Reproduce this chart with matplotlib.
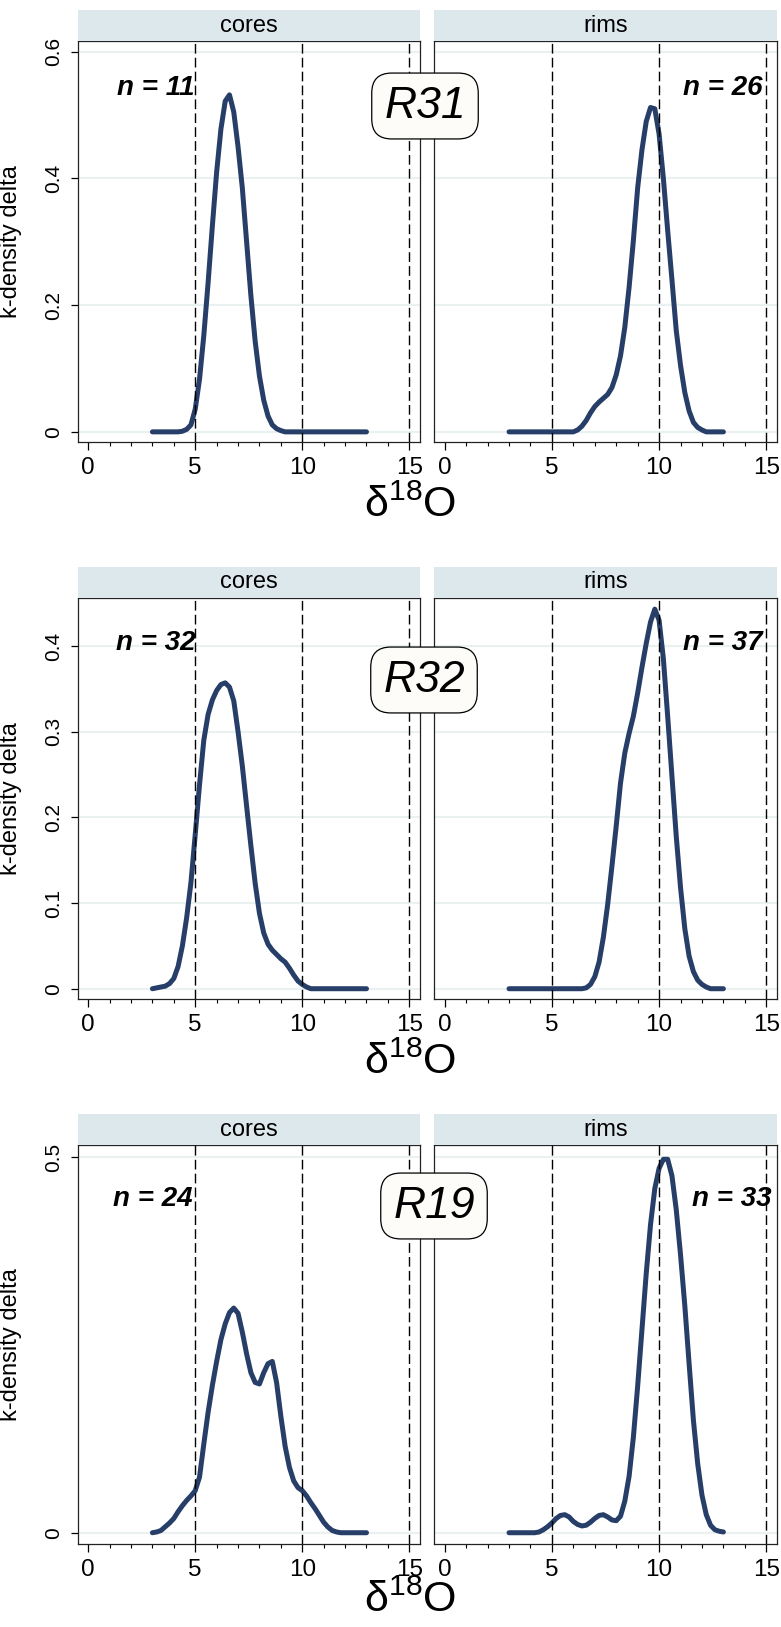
import matplotlib
matplotlib.use("Agg")
import matplotlib.pyplot as plt
from matplotlib.patches import Rectangle
from matplotlib.ticker import MultipleLocator

plt.rcParams['font.family'] = ['Liberation Sans', 'DejaVu Sans']
plt.rcParams['mathtext.fontset'] = 'custom'
plt.rcParams['mathtext.rm'] = 'Liberation Sans'
plt.rcParams['mathtext.it'] = 'Liberation Sans:italic'

# delta 18O grid on which the densities were read
delta = [3.0, 3.2, 3.4, 3.6, 3.8, 4.0, 4.2, 4.4, 4.6, 4.8,
         5.0, 5.2, 5.4, 5.6, 5.8, 6.0, 6.2, 6.4, 6.6, 6.8,
         7.0, 7.2, 7.4, 7.6, 7.8, 8.0, 8.2, 8.4, 8.6, 8.8,
         9.0, 9.2, 9.4, 9.6, 9.8, 10.0, 10.2, 10.4, 10.6, 10.8,
         11.0, 11.2, 11.4, 11.6, 11.8, 12.0, 12.2, 12.4, 12.6, 12.8, 13.0]

r31_cores = [0, 0, 0, 0, 0, 0, 0, 0.001, 0.004, 0.011,
             0.036, 0.083, 0.152, 0.235, 0.325, 0.41, 0.478, 0.522, 0.532, 0.505,
             0.45, 0.385, 0.30, 0.215, 0.143, 0.088, 0.05, 0.025, 0.011, 0.005,
             0.002, 0, 0, 0, 0, 0, 0, 0, 0, 0,
             0, 0, 0, 0, 0, 0, 0, 0, 0, 0, 0]
r31_rims = [0, 0, 0, 0, 0, 0, 0, 0, 0, 0,
            0, 0, 0, 0, 0, 0, 0.003, 0.009, 0.018, 0.03,
            0.04, 0.047, 0.053, 0.059, 0.07, 0.09, 0.12, 0.165, 0.228, 0.302,
            0.385, 0.445, 0.49, 0.512, 0.51, 0.47, 0.40, 0.318, 0.24, 0.16,
            0.105, 0.062, 0.033, 0.015, 0.007, 0.003, 0, 0, 0, 0, 0]
r32_cores = [0, 0.001, 0.002, 0.003, 0.006, 0.012, 0.026, 0.05, 0.083, 0.124,
             0.18, 0.238, 0.29, 0.32, 0.337, 0.348, 0.355, 0.357, 0.352, 0.336,
             0.30, 0.26, 0.213, 0.167, 0.123, 0.088, 0.065, 0.052, 0.045, 0.04,
             0.035, 0.031, 0.024, 0.016, 0.009, 0.005, 0.002, 0, 0, 0,
             0, 0, 0, 0, 0, 0, 0, 0, 0, 0, 0]
r32_rims = [0, 0, 0, 0, 0, 0, 0, 0, 0, 0,
            0, 0, 0, 0, 0, 0, 0, 0, 0.001, 0.005,
            0.014, 0.031, 0.06, 0.098, 0.143, 0.19, 0.24, 0.275, 0.298, 0.318,
            0.345, 0.375, 0.403, 0.428, 0.443, 0.43, 0.385, 0.318, 0.248, 0.178,
            0.118, 0.07, 0.038, 0.02, 0.01, 0.005, 0.002, 0, 0, 0, 0]
r19_cores = [0, 0.001, 0.003, 0.008, 0.013, 0.019, 0.028, 0.036, 0.043, 0.049,
             0.056, 0.074, 0.118, 0.16, 0.196, 0.228, 0.257, 0.278, 0.293, 0.299,
             0.292, 0.267, 0.238, 0.213, 0.2, 0.198, 0.213, 0.225, 0.228, 0.2,
             0.155, 0.115, 0.087, 0.069, 0.06, 0.056, 0.049, 0.04, 0.032, 0.023,
             0.014, 0.0075, 0.003, 0.001, 0, 0, 0, 0, 0, 0, 0]
r19_rims = [0, 0, 0, 0, 0, 0, 0, 0.001, 0.004, 0.008,
            0.013, 0.019, 0.023, 0.024, 0.021, 0.015, 0.011, 0.009, 0.01, 0.014,
            0.019, 0.023, 0.024, 0.021, 0.017, 0.016, 0.022, 0.042, 0.075, 0.127,
            0.195, 0.27, 0.345, 0.41, 0.458, 0.485, 0.497, 0.497, 0.475, 0.43,
            0.37, 0.302, 0.225, 0.15, 0.092, 0.05, 0.024, 0.01, 0.004, 0.002, 0.001]

samples = ["R31", "R32", "R19"]
panels = ["cores", "rims"]
counts = [[11, 26], [32, 37], [24, 33]]
curves = [[r31_cores, r31_rims], [r32_cores, r32_rims], [r19_cores, r19_rims]]
y_ticks = [[0, 0.2, 0.4, 0.6], [0, 0.1, 0.2, 0.3, 0.4], [0, 0.5]]
y_ticklabels = [["0", "0.2", "0.4", "0.6"], ["0", "0.1", "0.2", "0.3", "0.4"], ["0", "0.5"]]
y_limits = [(-0.016, 0.617), (-0.012, 0.456), (-0.015, 0.516)]
ref_lines = [5, 10, 15]
x_ticks = [0, 5, 10, 15]

W, H = 781, 1627
LINE = '#263e68'
STRIP = '#dde8ed'

# pixel layout: (axes top, axes bottom), label positions
rows_px = [(41, 442), (598, 999), (1145, 1544)]
cols_px = [(77.5, 420), (434, 777)]
n_pos = [(0.543, 4.95, 14.82), (0.403, 5.03, 14.82), (0.444, 4.88, 15.25)]
box_px = [(425, 106), (424, 680), (434, 1206)]
xlabel_px = [506, 1063, 1601]
STRIP_H = 31

fig = plt.figure(figsize=(W / 100, H / 100), dpi=100)

for r in range(3):
    top, bot = rows_px[r]
    for c in range(2):
        left, right = cols_px[c]
        ax = fig.add_axes([left / W, 1 - bot / H, (right - left) / W, (bot - top) / H])
        ax.set_xlim(-0.5, 15.5)
        ax.set_ylim(*y_limits[r])

        ax.plot(delta, curves[r][c], color=LINE, lw=3.6, solid_capstyle='round',
                solid_joinstyle='round', zorder=2)
        for xv in ref_lines:
            ax.axvline(xv, color='black', lw=1.0, dashes=(7, 3), zorder=3)

        ax.set_yticks(y_ticks[r])
        ax.yaxis.grid(True, color='#e9f1f1', lw=1.5)
        ax.set_axisbelow(True)
        ax.set_xticks(x_ticks)
        ax.xaxis.set_minor_locator(MultipleLocator(1))
        ax.tick_params(axis='x', which='major', length=5.5, width=0.9, labelsize=17.5, pad=5)
        ax.tick_params(axis='x', which='minor', length=3, width=0.8)
        if c == 0:
            ax.set_yticklabels(y_ticklabels[r], rotation=90, va='center')
            ax.tick_params(axis='y', length=5, width=0.9, labelsize=15, pad=5)
            ax.set_ylabel("k-density delta", fontsize=17)
            ax.yaxis.set_label_coords(-(left - 22) / (right - left), 0.5)
        else:
            ax.tick_params(axis='y', length=0, labelleft=False)
        for s in ax.spines.values():
            s.set_linewidth(0.9)
            s.set_color('#222222')

        # facet strip
        sh = STRIP_H / (bot - top)
        ax.add_patch(Rectangle((0, 1), 1, sh, transform=ax.transAxes, facecolor=STRIP,
                               edgecolor='none', clip_on=False, zorder=5))
        ax.text(0.5, 1 + sh / 2, panels[c], transform=ax.transAxes, ha='center',
                va='center', fontsize=17, zorder=6)

        ny, nx_left, nx_right = n_pos[r]
        ax.text(nx_left if c == 0 else nx_right, ny, "n = {0}".format(counts[r][c]),
                ha='right', va='center', fontsize=20, fontweight='bold',
                fontstyle='italic', zorder=6)

    fig.text(410 / W, 1 - xlabel_px[r] / H, r'$\mathregular{\delta^{18}O}$',
             ha='center', va='center', fontsize=31)

    bx, by = box_px[r]
    fig.text(bx / W, 1 - by / H, samples[r], ha='center', va='center', fontsize=32,
             fontstyle='italic',
             bbox=dict(boxstyle='round,pad=0.28,rounding_size=0.45', facecolor='#fdfcf9',
                       edgecolor='black', lw=0.9))

fig.savefig("out.png", dpi=100)
